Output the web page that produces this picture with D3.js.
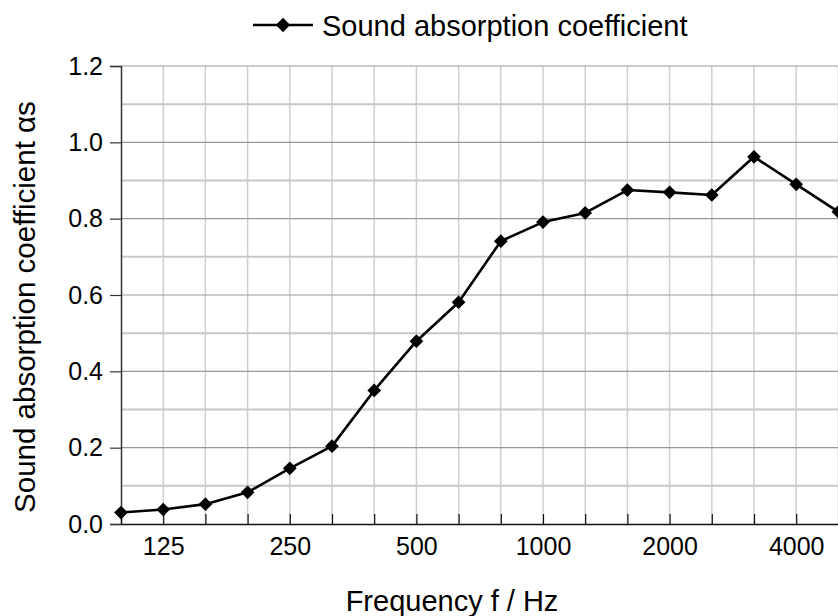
<!DOCTYPE html>
<html>
<head>
<meta charset="utf-8">
<script src="https://cdn.jsdelivr.net/npm/d3@7"></script>
<style>
  body { margin: 0; background: #fff; }
  svg { display: block; font-family: "Liberation Sans", Arial, sans-serif; }
</style>
</head>
<body>
<svg id="chart" width="838" height="616"></svg>
<script>
// third-octave bands, Hz
var frequencies = ["100", "125", "160", "200", "250", "315", "400", "500", "630",
  "800", "1000", "1250", "1600", "2000", "2500", "3150", "4000", "5000"];
// sound absorption coefficient
var alphaValues = [0.030, 0.038, 0.052, 0.083, 0.146, 0.204, 0.350, 0.479, 0.581,
  0.741, 0.791, 0.815, 0.875, 0.869, 0.862, 0.962, 0.890, 0.818];
var xLabels = ["125", "250", "500", "1000", "2000", "4000"];
var yTicks = [0, 0.2, 0.4, 0.6, 0.8, 1.0, 1.2];
var yMinor = [0.1, 0.3, 0.5, 0.7, 0.9, 1.1];

var data = frequencies.map(function (f, i) {
  return { freq: f, alpha: alphaValues[i] };
});

var plotLeft = 121, plotTop = 66, plotBottom = 524, step = 42.2;
var plotRight = plotLeft + step * (frequencies.length - 1);

var svg = d3.select("#chart");

var xScale = d3.scalePoint().domain(frequencies).range([plotLeft, plotRight]).padding(0);
var yScale = d3.scaleLinear().domain([0, 1.2]).range([plotBottom, plotTop]);

// vertical grid
svg.append("g")
  .selectAll("line")
  .data(frequencies.slice(1))
  .enter()
  .append("line")
  .attr("x1", function (d) { return xScale(d); })
  .attr("x2", function (d) { return xScale(d); })
  .attr("y1", plotTop)
  .attr("y2", plotBottom)
  .attr("stroke", "#cfcfcf")
  .attr("stroke-width", 1.5);

// minor horizontal grid
svg.append("g")
  .selectAll("line")
  .data(yMinor)
  .enter()
  .append("line")
  .attr("x1", plotLeft)
  .attr("x2", 838)
  .attr("y1", function (d) { return yScale(d); })
  .attr("y2", function (d) { return yScale(d); })
  .attr("stroke", "#c8c8c8")
  .attr("stroke-width", 2);

// major horizontal grid
svg.append("g")
  .selectAll("line")
  .data(yTicks.slice(1))
  .enter()
  .append("line")
  .attr("x1", plotLeft)
  .attr("x2", 838)
  .attr("y1", function (d) { return yScale(d); })
  .attr("y2", function (d) { return yScale(d); })
  .attr("stroke", "#999")
  .attr("stroke-width", 1.2);

// y axis
var yAxis = d3.axisLeft(yScale)
  .tickValues(yTicks)
  .tickSize(11)
  .tickPadding(7)
  .tickFormat(d3.format(".1f"));
var gy = svg.append("g")
  .attr("transform", "translate(" + plotLeft + ",0)")
  .call(yAxis);
gy.select(".domain").attr("stroke", "#333").attr("stroke-width", 1.5);
gy.selectAll(".tick line").attr("stroke", "#333").attr("stroke-width", 1.2);
gy.selectAll(".tick text").attr("font-size", 25).attr("fill", "#000")
  .attr("font-family", "Liberation Sans, Arial, sans-serif");

// x axis, inner ticks
var xAxis = d3.axisBottom(xScale)
  .tickSize(-10)
  .tickSizeOuter(0)
  .tickPadding(13)
  .tickFormat(function (d) { return xLabels.indexOf(d) >= 0 ? d : ""; });
var gx = svg.append("g")
  .attr("transform", "translate(0," + plotBottom + ")")
  .call(xAxis);
gx.select(".domain").attr("stroke", "#111").attr("stroke-width", 1.5);
gx.selectAll(".tick line").attr("stroke", "#111").attr("stroke-width", 1.2);
gx.selectAll(".tick text").attr("font-size", 25).attr("fill", "#000")
  .attr("font-family", "Liberation Sans, Arial, sans-serif");

// series line
var line = d3.line()
  .x(function (d) { return xScale(d.freq); })
  .y(function (d) { return yScale(d.alpha); });

svg.append("path")
  .datum(data)
  .attr("d", line)
  .attr("fill", "none")
  .attr("stroke", "#000")
  .attr("stroke-width", 2.6)
  .attr("stroke-linejoin", "round");

var diamond = d3.symbol().type(d3.symbolDiamond2).size(120);
svg.append("g")
  .selectAll("path")
  .data(data)
  .enter()
  .append("path")
  .attr("d", diamond)
  .attr("transform", function (d) {
    return "translate(" + xScale(d.freq) + "," + yScale(d.alpha) + ")";
  })
  .attr("fill", "#000");

// legend
var legend = svg.append("g").attr("transform", "translate(253,25)");
legend.append("line")
  .attr("x1", 0).attr("x2", 60).attr("y1", 0).attr("y2", 0)
  .attr("stroke", "#000").attr("stroke-width", 2.6);
legend.append("path")
  .attr("d", d3.symbol().type(d3.symbolDiamond2).size(130))
  .attr("transform", "translate(30,0)");
legend.append("text")
  .attr("x", 69).attr("y", 11)
  .attr("font-size", 29)
  .text("Sound absorption coefficient");

// axis titles
svg.append("text")
  .attr("transform", "translate(35,307) rotate(-90)")
  .attr("text-anchor", "middle")
  .attr("font-size", 29.5)
  .text("Sound absorption coefficient \u03b1s");

svg.append("text")
  .attr("x", 452)
  .attr("y", 611)
  .attr("text-anchor", "middle")
  .attr("font-size", 29)
  .text("Frequency f / Hz");
</script>
</body>
</html>
